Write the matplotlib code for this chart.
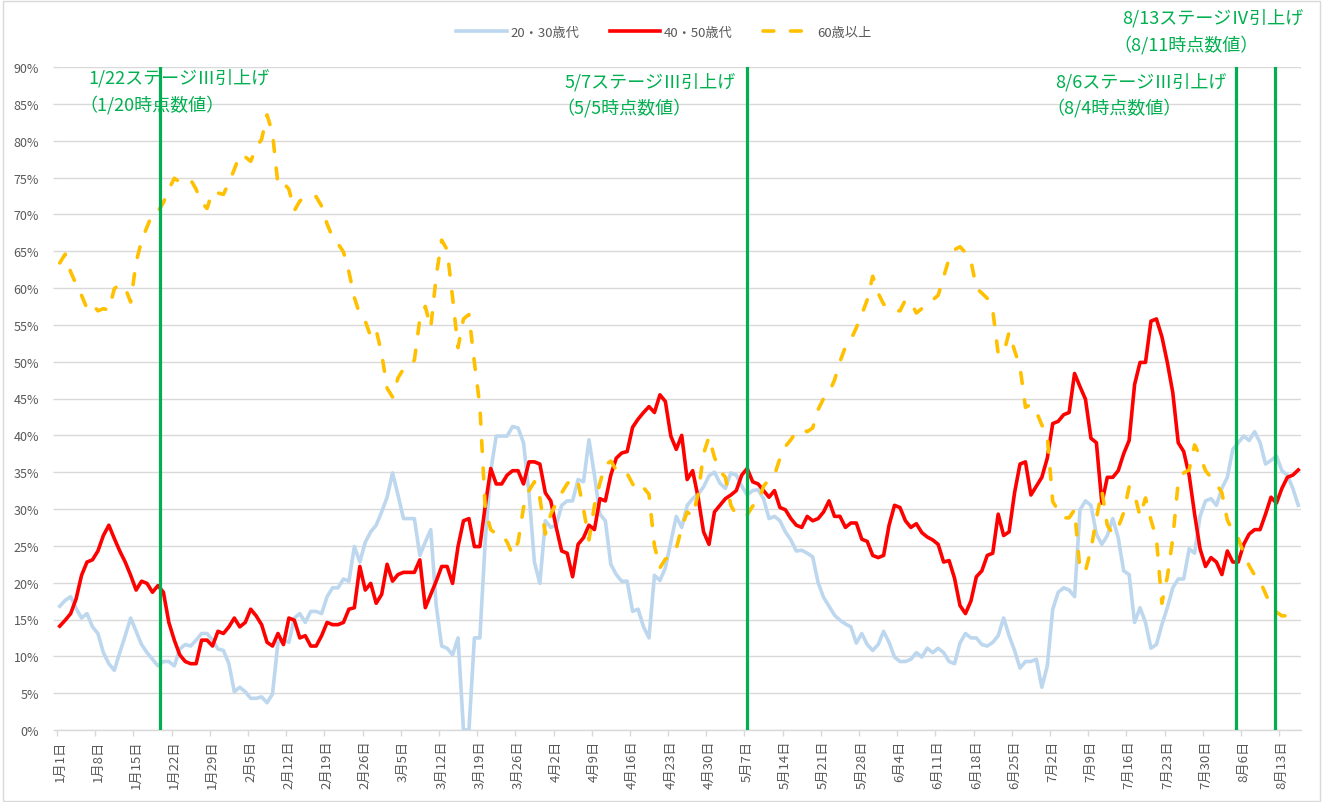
import matplotlib
matplotlib.use('Agg')
import matplotlib.pyplot as plt
import numpy as np
from matplotlib.patches import Rectangle

plt.rcParams['font.family'] = ['Noto Sans CJK JP', 'DejaVu Sans']

# ---- data (daily share, %, 1/1 .. 8/16) ----
series_names = ['20・30歳代', '40・50歳代', '60歳以上']

blue = [
    16.8, 17.6, 18.1, 16.5, 15.2, 15.8, 14.0, 13.1, 10.5, 9.0,
    8.1, 10.5, 12.8, 15.2, 13.4, 11.6, 10.5, 9.6, 8.7, 9.3,
    9.3, 8.7, 11.0, 11.6, 11.4, 12.2, 13.1, 13.1, 12.2, 11.0,
    10.8, 9.0, 5.2, 5.8, 5.2, 4.3, 4.3, 4.5, 3.7, 4.9,
    11.9, 12.2, 11.9, 15.2, 15.8, 14.6, 16.1, 16.1, 15.8, 18.1,
    19.3, 19.3, 20.5, 20.2, 24.9, 22.8, 25.5, 26.9, 27.8, 29.6,
    31.6, 34.9, 31.9, 28.7, 28.7, 28.7, 23.7, 25.5, 27.2, 16.9,
    11.4, 11.1, 10.2, 12.5, 0.0, 0.0, 12.5, 12.5, 25.8, 35.2,
    39.9, 39.9, 39.9, 41.2, 41.0, 39.0, 32.2, 22.8, 19.9, 28.4,
    27.5, 27.8, 30.5, 31.1, 31.1, 34.0, 33.7, 39.4, 34.6, 29.3,
    28.4, 22.5, 21.1, 20.2, 20.2, 16.1, 16.4, 14.0, 12.5, 21.0,
    20.3, 22.0, 25.5, 29.0, 27.5, 30.5, 31.4, 32.0, 33.0, 34.5,
    35.0, 33.5, 32.8, 34.9, 34.6, 33.1, 31.9, 32.5, 32.6, 31.4,
    28.7, 29.0, 28.4, 26.9, 25.8, 24.3, 24.4, 24.0, 23.5, 20.0,
    18.0, 16.8, 15.6, 14.9, 14.4, 14.0, 11.8, 13.1, 11.6, 10.8,
    11.6, 13.4, 11.9, 9.9, 9.3, 9.3, 9.6, 10.5, 9.9, 11.1,
    10.5, 11.1, 10.5, 9.3, 9.0, 11.8, 13.1, 12.5, 12.5, 11.6,
    11.4, 11.9, 12.8, 15.2, 12.8, 10.8, 8.4, 9.3, 9.3, 9.6,
    5.8, 8.7, 16.4, 18.7, 19.3, 19.0, 18.1, 29.9, 31.1, 30.5,
    26.6, 25.2, 26.4, 28.7, 26.1, 21.6, 21.1, 14.6, 16.6, 14.6,
    11.1, 11.6, 14.3, 16.6, 19.3, 20.5, 20.5, 24.6, 24.0, 29.0,
    31.1, 31.4, 30.5, 32.8, 34.3, 38.1, 39.0, 39.9, 39.3, 40.5,
    39.0, 36.1, 36.6, 37.2, 35.2, 34.6, 32.8, 30.5,
]

red = [
    14.1, 14.9, 15.8, 17.8, 21.0, 22.8, 23.1, 24.3, 26.4, 27.8,
    26.0, 24.3, 22.8, 21.0, 19.0, 20.2, 19.9, 18.7, 19.6, 18.7,
    14.6, 12.2, 10.2, 9.3, 9.0, 9.0, 12.2, 12.2, 11.4, 13.4,
    13.1, 14.0, 15.2, 14.0, 14.6, 16.4, 15.5, 14.3, 11.9, 11.4,
    13.1, 11.6, 15.2, 14.9, 12.5, 12.8, 11.4, 11.4, 12.8, 14.6,
    14.3, 14.3, 14.6, 16.4, 16.6, 22.2, 19.0, 19.9, 17.2, 18.4,
    22.5, 20.2, 21.1, 21.4, 21.4, 21.4, 23.1, 16.6, 18.4, 20.2,
    22.2, 22.2, 19.9, 24.9, 28.4, 28.7, 24.9, 24.9, 30.5, 35.5,
    33.4, 33.4, 34.6, 35.2, 35.2, 33.4, 36.4, 36.4, 36.1, 32.2,
    31.1, 27.5, 24.3, 24.0, 20.8, 25.2, 26.1, 27.8, 27.2, 31.4,
    31.1, 34.6, 36.9, 37.6, 37.8, 41.1, 42.2, 43.1, 43.9, 43.1,
    45.5, 44.6, 39.9, 38.1, 40.0, 34.0, 35.2, 31.6, 26.9, 25.2,
    29.6, 30.5, 31.4, 31.9, 32.5, 34.6, 35.5, 33.7, 33.4, 32.5,
    31.6, 32.5, 30.2, 29.9, 28.7, 27.8, 27.5, 29.0, 28.4, 28.7,
    29.6, 31.1, 29.0, 29.0, 27.5, 28.1, 28.1, 25.9, 25.6, 23.7,
    23.4, 23.7, 27.8, 30.5, 30.2, 28.4, 27.5, 28.0, 26.8, 26.2,
    25.8, 25.2, 22.8, 23.0, 20.6, 16.9, 15.8, 17.5, 20.8, 21.6,
    23.7, 24.0, 29.3, 26.4, 26.9, 32.2, 36.1, 36.4, 31.9, 33.1,
    34.3, 36.9, 41.6, 41.9, 42.8, 43.1, 48.4, 46.6, 44.9, 39.6,
    39.0, 30.8, 34.3, 34.3, 35.2, 37.5, 39.3, 46.9, 49.9, 49.9,
    55.5, 55.8, 53.4, 49.9, 45.8, 39.0, 37.8, 34.6, 29.3, 24.6,
    22.2, 23.4, 22.8, 21.1, 24.3, 22.8, 22.8, 25.2, 26.6, 27.2,
    27.2, 29.3, 31.6, 30.8, 32.8, 34.3, 34.6, 35.3,
]

yellow = [
    63.4, 64.6, 62.2, 60.5, 59.0, 57.2, 57.8, 56.9, 57.2, 57.0,
    59.9, 60.5, 60.0, 58.1, 63.5, 66.4, 68.3, 70.1, 70.4, 71.6,
    73.4, 74.9, 74.4, 74.5, 74.7, 73.4, 71.6, 70.8, 73.1, 72.9,
    72.7, 74.3, 76.1, 78.1, 77.8, 77.2, 79.0, 80.2, 83.5, 81.0,
    74.0, 74.3, 73.4, 70.5, 71.8, 72.4, 72.5, 72.4, 71.1, 68.7,
    66.9, 66.0, 64.9, 62.2, 58.7, 56.4, 55.5, 53.4, 54.3, 51.1,
    46.4, 45.2, 47.8, 49.0, 49.3, 50.2, 55.8, 57.5, 54.6, 61.6,
    66.5, 65.2, 58.7, 51.9, 55.8, 56.4, 49.9, 44.0, 29.9, 27.2,
    26.6, 26.6, 25.5, 23.8, 25.5, 30.2, 32.5, 33.7, 31.5, 26.6,
    29.3, 30.8, 32.2, 33.4, 34.3, 33.6, 30.0, 25.8, 30.5, 33.5,
    36.0, 36.5, 35.3, 35.4, 34.8, 33.4, 32.4, 32.9, 32.0, 25.0,
    22.0, 23.2, 23.6, 24.6, 27.5, 29.6, 29.0, 32.0, 37.5, 39.8,
    37.0, 35.2, 34.3, 30.5, 29.2, 29.0, 29.2, 30.4, 30.8, 33.1,
    34.0, 34.6, 36.9, 38.5, 39.4, 40.5, 40.8, 40.5, 41.0, 43.5,
    45.0, 45.8, 47.5, 50.0, 52.0, 53.0, 54.6, 56.4, 58.4, 61.6,
    59.3, 57.8, 57.5, 56.9, 56.9, 58.4, 58.1, 56.6, 57.2, 57.8,
    58.4, 59.0, 61.5, 64.0, 65.2, 65.6, 64.8, 63.7, 60.0, 59.3,
    58.6, 57.0, 51.1, 51.1, 54.0, 51.5, 49.3, 43.8, 44.2, 43.2,
    41.4, 39.9, 31.0, 29.8, 28.8, 28.8, 29.9, 21.6, 21.6, 24.5,
    28.7, 32.5, 27.8, 26.6, 27.5, 29.5, 33.0, 32.0, 29.0, 31.5,
    28.5, 26.0, 17.2, 20.8, 26.0, 33.7, 34.9, 35.3, 38.7, 37.2,
    35.2, 34.3, 33.4, 32.2, 28.5, 27.0, 26.0, 24.0, 22.3, 21.0,
    20.2, 18.5, 16.8, 16.0, 15.5, 15.5, 15.8, 16.5,
]

tick_labels = ['1月1日', '1月8日', '1月15日', '1月22日', '1月29日', '2月5日',
               '2月12日', '2月19日', '2月26日', '3月5日', '3月12日', '3月19日',
               '3月26日', '4月2日', '4月9日', '4月16日', '4月23日', '4月30日',
               '5月7日', '5月14日', '5月21日', '5月28日', '6月4日', '6月11日',
               '6月18日', '6月25日', '7月2日', '7月9日', '7月16日', '7月23日',
               '7月30日', '8月6日', '8月13日']

# stage-change markers (category positions) and their notes
stage_pos = [18.3, 126.0, 215.6, 222.8]
stage_notes = [
    ('1/22ステージⅢ引上げ', '（1/20時点数値）'),
    ('5/7ステージⅢ引上げ', '（5/5時点数値）'),
    ('8/6ステージⅢ引上げ', '（8/4時点数値）'),
    ('8/13ステージⅣ引上げ', '（8/11時点数値）'),
]

# ---- figure ----
W, H = 1326, 803
fig = plt.figure(figsize=(W / 100, H / 100), dpi=100)
ax = fig.add_axes([57 / W, (H - 731) / H, (1301 - 57) / W, (731 - 68) / H])

n = len(blue)
x = np.arange(n)
lw = 2.6
ax.plot(x, blue, color='#BDD7EE', lw=lw, label=series_names[0],
        solid_joinstyle='round', zorder=3)
ax.plot(x, red, color='#FF0000', lw=lw, label=series_names[1],
        solid_joinstyle='round', zorder=4)
ax.plot(x, yellow, color='#FFC000', lw=lw, ls=(0, (3.0, 4.6)),
        dash_capstyle='round', label=series_names[2], zorder=5)

for p in stage_pos:
    ax.axvline(p, color='#00B050', lw=2.3, zorder=6)

ax.set_xlim(-0.5, n - 0.5)
ax.set_ylim(0, 90)
yt = np.arange(0, 91, 5)
ax.set_yticks(yt)
ax.set_yticklabels([f'{v}%' for v in yt])
ax.grid(axis='y', color='#D9D9D9', lw=1)
ax.set_axisbelow(True)

tpos = np.arange(0, 7 * len(tick_labels), 7)
ax.set_xticks(tpos)
ax.set_xticklabels(tick_labels, rotation=90, va='top', ha='center')
ax.set_xticks(tpos - 0.5, minor=True)
ax.tick_params(axis='x', which='major', length=0, pad=7, labelsize=9.5,
               labelcolor='#595959')
ax.tick_params(axis='x', which='minor', length=4.5, width=1, color='#D9D9D9')
ax.tick_params(axis='y', length=3, width=1, color='#D9D9D9', pad=10,
               labelsize=9, labelcolor='#595959')

for s in ['top', 'right', 'left']:
    ax.spines[s].set_visible(False)
ax.spines['bottom'].set_color('#D9D9D9')
ax.spines['bottom'].set_linewidth(1)

# notes
note_xy = [(88, 78, 105), (565, 82, 108), (1055, 82, 108), (1122, 18, 45)]
for (l1, l2), (px, y1, y2) in zip(stage_notes, note_xy):
    fig.text(px / W, 1 - y1 / H, l1, color='#00B050', fontsize=13,
             ha='left', va='center')
    fig.text((px - 9) / W, 1 - y2 / H, l2, color='#00B050', fontsize=13,
             ha='left', va='center')

leg = fig.legend(loc='center', bbox_to_anchor=(664 / W, 1 - 33 / H), ncol=3,
                 frameon=False, fontsize=9.5, handlelength=3.8,
                 columnspacing=2.3, handletextpad=0.3)
for t in leg.get_texts():
    t.set_color('#595959')

fig.patches.append(Rectangle((3 / W, 1 / H), (1320 - 3) / W, (801 - 1) / H,
                             transform=fig.transFigure, fill=False,
                             edgecolor='#D9D9D9', lw=1))

fig.savefig('out.png', dpi=100)
